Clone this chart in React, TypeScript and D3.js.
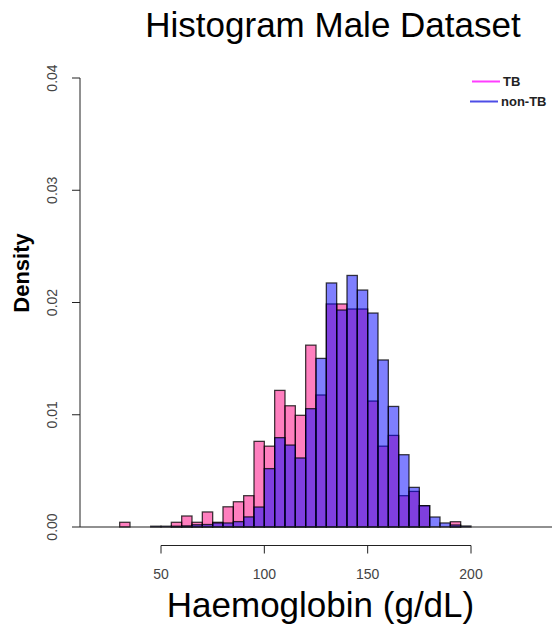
import React from "react";
import * as d3 from "d3";

// Left edges of the 5 g/dL bins
const binStarts = [
  30, 35, 40, 45, 50, 55, 60, 65, 70, 75, 80, 85, 90, 95, 100, 105, 110, 115,
  120, 125, 130, 135, 140, 145, 150, 155, 160, 165, 170, 175, 180, 185, 190, 195,
];
const binWidth = 5;

// Density per bin, TB patients
const tbDensity = [
  0.00042, 0, 0, 0, 0, 0.00042, 0.00098, 0.00042, 0.00134, 0.00042, 0.0018,
  0.00225, 0.00279, 0.00763, 0.0072, 0.01217, 0.0108, 0.00995, 0.0162, 0.01176,
  0.01987, 0.01987, 0.01942, 0.01942, 0.01122, 0.0072, 0.00816, 0.00279,
  0.00317, 0.0019, 0, 0, 0.00047, 0,
];

// Density per bin, non-TB patients
const nonTbDensity = [
  0, 0, 0, 0.00007, 0.00007, 0.00007, 0.0001, 0.0002, 0.00022, 0.00036,
  0.00036, 0.00048, 0.0009, 0.00178, 0.0052, 0.00796, 0.0073, 0.00615,
  0.01054, 0.01502, 0.02174, 0.01933, 0.02241, 0.02111, 0.01906, 0.01488,
  0.01074, 0.00644, 0.00353, 0.0019, 0.00089, 0.00036, 0.00018, 0.00009,
];

const xTicks = [50, 100, 150, 200];
const yTicks = [0, 0.01, 0.02, 0.03, 0.04];

const legendLabels = ["TB", "non-TB"];
const legendColors = ["#ff3dff", "#4d4de6"];

const W = 556;
const H = 630;
const FONT = "'Liberation Sans', Arial, Helvetica, sans-serif";

export default function App() {
  const x = d3
    .scaleLinear()
    .domain([50, 200])
    .range([161, 471]);
  const y = d3.scaleLinear().domain([0, 0.04]).range([527, 78]);

  const plotLeft = 80;
  const plotRight = 552;
  const xAxisY = 545.5;

  const series = [
    { values: tbDensity, fill: "rgba(255,0,128,0.5)" },
    { values: nonTbDensity, fill: "rgba(0,0,255,0.5)" },
  ];

  return (
    <svg
      width={W}
      height={H}
      style={{ position: "absolute", left: 0, top: 0, background: "#fff" }}
      fontFamily={FONT}
    >
      {/* title */}
      <text x={333} y={37} fontSize={35} textAnchor="middle" fill="#000">
        Histogram Male Dataset
      </text>

      {/* histogram bars: TB first, non-TB drawn over it */}
      {series.map((s, si) => (
        <g key={si}>
          {s.values.map((v, i) => {
            if (v <= 0) return null;
            const x0 = x(binStarts[i]);
            const x1 = x(binStarts[i] + binWidth);
            return (
              <rect
                key={i}
                x={x0}
                y={y(v)}
                width={x1 - x0}
                height={y(0) - y(v)}
                fill={s.fill}
                stroke="#000"
                strokeOpacity={0.75}
                strokeWidth={1.3}
              />
            );
          })}
        </g>
      ))}

      {/* baseline */}
      <line
        x1={plotLeft}
        x2={plotRight}
        y1={y(0)}
        y2={y(0)}
        stroke="#222"
        strokeWidth={1.2}
      />

      {/* y axis */}
      <line
        x1={plotLeft}
        x2={plotLeft}
        y1={y(0)}
        y2={y(0.04)}
        stroke="#222"
        strokeWidth={1}
      />
      {yTicks.map((t) => (
        <g key={t}>
          <line
            x1={plotLeft - 8}
            x2={plotLeft}
            y1={y(t)}
            y2={y(t)}
            stroke="#222"
            strokeWidth={1}
          />
          <text
            transform={`translate(56.5,${y(t)}) rotate(-90)`}
            fontSize={14}
            textAnchor="middle"
            fill="#444"
          >
            {t.toFixed(2)}
          </text>
        </g>
      ))}
      <text
        transform={`translate(29,273) rotate(-90)`}
        fontSize={22}
        fontWeight="bold"
        textAnchor="middle"
        fill="#000"
      >
        Density
      </text>

      {/* x axis */}
      <line
        x1={x(xTicks[0])}
        x2={x(xTicks[xTicks.length - 1])}
        y1={xAxisY}
        y2={xAxisY}
        stroke="#222"
        strokeWidth={1}
      />
      {xTicks.map((t) => (
        <g key={t}>
          <line
            x1={x(t)}
            x2={x(t)}
            y1={xAxisY}
            y2={xAxisY + 8}
            stroke="#222"
            strokeWidth={1}
          />
          <text
            x={x(t)}
            y={579}
            fontSize={14}
            textAnchor="middle"
            fill="#444"
          >
            {t}
          </text>
        </g>
      ))}
      <text x={320.5} y={617} fontSize={35} textAnchor="middle" fill="#000">
        Haemoglobin (g/dL)
      </text>

      {/* legend */}
      {legendLabels.map((lab, i) => {
        const ly = 81.5 + i * 20;
        const lx0 = i === 0 ? 472 : 470;
        return (
          <g key={lab}>
            <line
              x1={lx0}
              x2={lx0 + 28}
              y1={ly}
              y2={ly}
              stroke={legendColors[i]}
              strokeWidth={2}
            />
            <text
              x={lx0 + 31}
              y={ly + 4.5}
              fontSize={13}
              fontWeight="bold"
              fill="#222"
            >
              {lab}
            </text>
          </g>
        );
      })}
    </svg>
  );
}
